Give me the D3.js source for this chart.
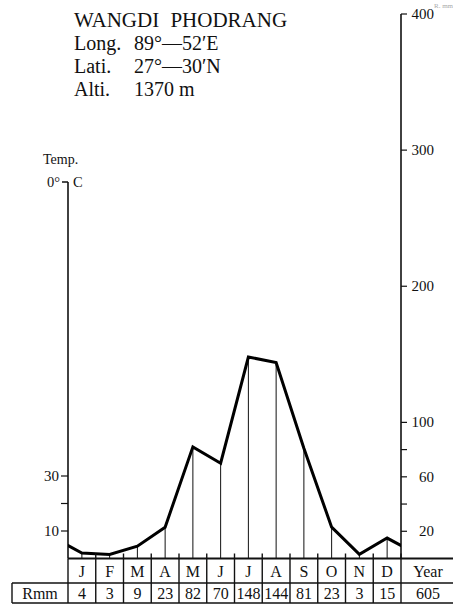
<!DOCTYPE html>
<html><head><meta charset="utf-8">
<script src="https://cdn.jsdelivr.net/npm/d3@7"></script>
<style>
body{margin:0;background:#fff;}
svg{display:block;}
text{font-family:"Liberation Serif","DejaVu Serif",serif;fill:#111;}
</style></head>
<body>
<script>
// ---- data ----
const months = ["J","F","M","A","M","J","J","A","S","O","N","D"];
const rainfall = [4,3,9,23,82,70,148,144,81,23,3,15];
const yearTotal = 605;
const rainTicks = [20,40,60,80,100,200,300,400];
const rainTickLabels = [20,60,100,200,300,400];
const tempTicks = [10,20,30];
const tempTickLabels = [10,30];
const stationLines = [["Long.","89°—52′E"],["Lati.","27°—30′N"],["Alti.","1370 m"]];
const stationName = "WANGDI PHODRANG";

const W = 453, H = 615;
const svg = d3.select("body").append("svg").attr("width",W).attr("height",H);

const x0 = 68, x1 = 401, base = 558.5;
const x = d3.scaleBand().domain(d3.range(12)).range([x0,x1]);
const step = x.step();
const cx = i => x(i) + step/2;
const yR = d3.scaleLinear().domain([0,400]).range([base,14]);
const yT = d3.scaleLinear().domain([0,30]).range([base,476]);

// Title block
svg.append("text").attr("x",74).attr("y",27).attr("font-size",21).attr("word-spacing",6).text(stationName);
stationLines.forEach((d,i)=>{
  const yy = 50 + i*23;
  svg.append("text").attr("x",74).attr("y",yy).attr("font-size",20).text(d[0]);
  svg.append("text").attr("x",134).attr("y",yy).attr("font-size",20).text(d[1]);
});

// faint top-right label
svg.append("text").attr("x",434).attr("y",8).attr("font-size",7).style("fill","#aaa").text("R. mm");

// Left temperature axis
svg.append("text").attr("x",43).attr("y",164).attr("font-size",14).text("Temp.");
svg.append("text").attr("x",47).attr("y",187).attr("font-size",14.5).text("0°");
svg.append("text").attr("x",73).attr("y",187).attr("font-size",14.5).text("C");
svg.append("line").attr("x1",62).attr("x2",x0).attr("y1",182).attr("y2",182).attr("stroke","#111").attr("stroke-width",1.5);
svg.append("line").attr("x1",x0).attr("x2",x0).attr("y1",182).attr("y2",base).attr("stroke","#111").attr("stroke-width",1.6);
const gT = svg.append("g");
gT.selectAll("line").data(tempTicks).join("line")
  .attr("x1",61).attr("x2",x0).attr("y1",d=>yT(d)).attr("y2",d=>yT(d)).attr("stroke","#111").attr("stroke-width",1.2);
gT.selectAll("text").data(tempTickLabels).join("text")
  .attr("x",59).attr("y",d=>yT(d)+5).attr("text-anchor","end").attr("font-size",15).text(d=>d);

// Right rainfall axis
svg.append("line").attr("x1",x1).attr("x2",x1).attr("y1",yR(400)).attr("y2",base).attr("stroke","#111").attr("stroke-width",1.6);
const gR = svg.append("g");
gR.selectAll("line").data(rainTicks).join("line")
  .attr("x1",x1).attr("x2",x1+6).attr("y1",d=>yR(d)).attr("y2",d=>yR(d)).attr("stroke","#111").attr("stroke-width",1.2);
gR.selectAll("text").data(rainTickLabels).join("text")
  .attr("x",434).attr("y",d=>yR(d)+5).attr("text-anchor","end").attr("font-size",15).text(d=>d);

// Drop lines
svg.append("g").selectAll("line").data(rainfall).join("line")
  .attr("x1",(d,i)=>cx(i)).attr("x2",(d,i)=>cx(i))
  .attr("y1",d=>yR(d)).attr("y2",base)
  .attr("stroke","#111").attr("stroke-width",1);

// Rainfall line (wrapping around year ends, clipped to plot)
svg.append("clipPath").attr("id","clip").append("rect").attr("x",x0).attr("y",0).attr("width",x1-x0).attr("height",base);
const pts = [[cx(0)-step, yR(rainfall[11])]]
  .concat(rainfall.map((d,i)=>[cx(i), yR(d)]))
  .concat([[cx(11)+step, yR(rainfall[0])]]);
svg.append("path").attr("clip-path","url(#clip)")
  .attr("d", d3.line()(pts)).attr("fill","none").attr("stroke","#000")
  .attr("stroke-width",3).attr("stroke-linejoin","miter");

// Table
const r1 = base, r2 = 583, r3 = 603;
const tg = svg.append("g").attr("stroke","#111").attr("stroke-width",1.4);
tg.append("line").attr("x1",x0).attr("x2",W).attr("y1",r1).attr("y2",r1).attr("stroke-width",1.8);
tg.append("line").attr("x1",12).attr("x2",W).attr("y1",r2).attr("y2",r2);
tg.append("line").attr("x1",12).attr("x2",W).attr("y1",r3).attr("y2",r3);
tg.append("line").attr("x1",12).attr("x2",12).attr("y1",r2).attr("y2",r3);
tg.append("line").attr("x1",x0).attr("x2",x0).attr("y1",r1).attr("y2",r3);
tg.selectAll("line.col").data(d3.range(1,13)).join("line").attr("class","col")
  .attr("x1",i=>x0+i*step).attr("x2",i=>x0+i*step).attr("y1",r1-5).attr("y2",r3);

svg.append("g").selectAll("text").data(months).join("text")
  .attr("x",(d,i)=>cx(i)).attr("y",577).attr("text-anchor","middle").attr("font-size",16).text(d=>d);
svg.append("g").selectAll("text").data(rainfall).join("text")
  .attr("x",(d,i)=>cx(i)).attr("y",599).attr("text-anchor","middle").attr("font-size",16).text(d=>d);
svg.append("text").attr("x",(x1+W)/2+1).attr("y",577).attr("text-anchor","middle").attr("font-size",16).text("Year");
svg.append("text").attr("x",(x1+W)/2+1).attr("y",599).attr("text-anchor","middle").attr("font-size",16).text(yearTotal);
svg.append("text").attr("x",(12+x0)/2).attr("y",599).attr("text-anchor","middle").attr("font-size",16).text("Rmm");
</script>
</body></html>
